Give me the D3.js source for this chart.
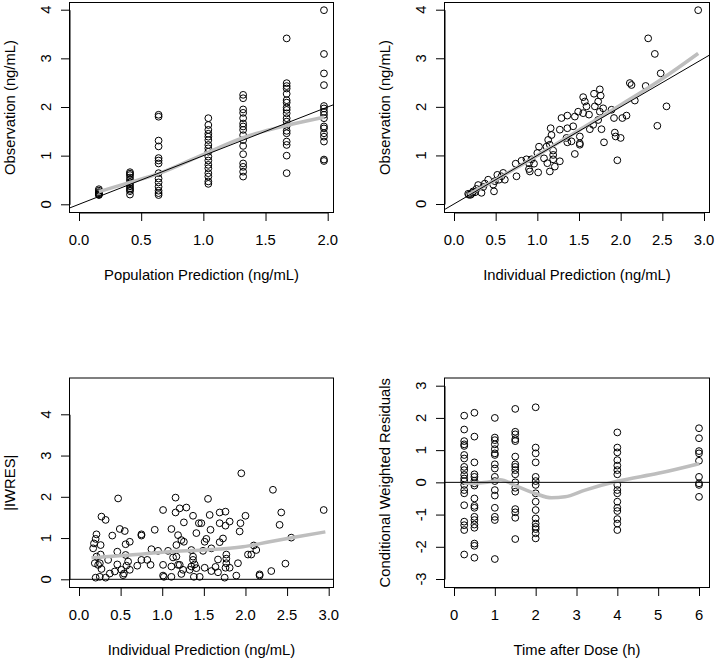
<!DOCTYPE html>
<html><head><meta charset="utf-8">
<script src="https://cdn.jsdelivr.net/npm/d3@7"></script>
<style>body{margin:0;background:#fff} text{font-family:"Liberation Sans",Arial,Helvetica,sans-serif;fill:#000}</style>
</head><body><svg id="c" width="716" height="661"></svg>
<script>
// ---------- DATA ----------
// Panel 1: Observation vs Population Prediction
const predLevels = [0.16, 0.41, 0.64, 1.04, 1.32, 1.67, 1.97];
const obsAtPred = [
  [0.31, 0.28, 0.25, 0.23, 0.21, 0.20, 0.19],
  [0.66, 0.63, 0.60, 0.55, 0.50, 0.45, 0.41, 0.37, 0.33, 0.30, 0.27, 0.20],
  [1.84, 1.80, 1.31, 1.19, 0.95, 0.90, 0.84, 0.64, 0.53, 0.45, 0.36, 0.28, 0.23, 0.19],
  [1.77, 1.63, 1.53, 1.45, 1.39, 1.32, 1.22, 1.15, 1.08, 0.98, 0.90, 0.81, 0.74, 0.64, 0.57, 0.47, 0.42],
  [2.25, 2.18, 1.95, 1.88, 1.77, 1.66, 1.60, 1.53, 1.42, 1.32, 1.20, 1.03, 0.84, 0.77, 0.67, 0.57],
  [3.41, 2.49, 2.43, 2.38, 2.27, 2.14, 2.09, 1.99, 1.94, 1.87, 1.77, 1.70, 1.61, 1.51, 1.46, 1.29, 1.22, 1.00, 0.64],
  [3.99, 3.09, 2.69, 2.45, 2.02, 1.97, 1.90, 1.84, 1.77, 1.60, 1.56, 1.46, 1.39, 1.29, 0.92, 0.89]
];
const smoothPredX = [0.16, 0.41, 0.64, 1.04, 1.32, 1.67, 1.97];
const smoothPredY = [0.26, 0.45, 0.63, 1.07, 1.37, 1.62, 1.79];

// Panel 2: Observation vs Individual Prediction
const ipredObs = [2.93,2.33,2.41,2.48,2.30,2.11,2.13,2.17,2.55,2.44,2.07,2.02,1.92,1.93,1.94,2.00,1.96,1.80,1.77,1.89,
  1.75,1.68,1.76,1.73,1.55,1.57,1.59,1.69,1.79,1.75,1.55,1.49,1.62,1.73,1.67,1.63,1.45,1.36,1.29,1.43,
  1.36,1.27,1.16,1.17,1.35,1.51,1.51,1.41,1.36,1.45,1.51,1.13,1.15,1.11,1.19,1.02,1.00,1.19,1.19,1.27,
  1.21,1.15,1.12,1.08,1.01,0.96,0.93,0.90,0.87,0.81,0.90,0.91,0.74,0.75,0.59,0.57,0.52,0.54,0.61,0.49,
  0.41,0.47,0.48,0.37,0.35,0.29,0.27,0.33,0.23,0.20,0.17,0.22,0.25,0.18];
const obsInd = [3.99,3.41,3.09,2.69,2.43,2.49,2.45,2.13,2.01,1.61,1.82,1.77,1.77,1.47,1.39,1.36,0.90,1.27,1.54,1.94,
  2.36,2.27,2.23,2.11,2.20,2.11,2.01,2.01,1.97,1.90,1.87,1.90,1.84,1.73,1.63,1.54,1.80,1.82,1.77,1.60,
  1.56,1.53,1.56,1.42,1.36,1.39,1.25,1.29,1.27,1.03,1.22,1.32,1.22,1.18,1.10,1.18,1.05,1.01,0.92,0.88,
  0.77,0.67,0.84,0.94,0.65,0.83,0.92,0.84,0.92,0.89,0.72,0.67,0.83,0.57,0.64,0.57,0.60,0.50,0.50,0.47,
  0.50,0.40,0.26,0.42,0.35,0.39,0.31,0.23,0.26,0.19,0.21,0.23,0.24,0.19];
const smoothIndX = [0.17, 0.5, 1.0, 1.5, 2.0, 2.5, 2.93];
const smoothIndY = [0.19, 0.50, 1.00, 1.52, 2.04, 2.58, 3.10];

// Panel 3: |IWRES| vs Individual Prediction
const ipredRes = [2.94,2.33,2.43,2.41,2.55,2.48,2.31,2.17,2.17,2.10,2.13,2.03,2.07,1.95,2.00,1.94,1.93,1.91,1.89,1.81,
  1.76,1.69,1.69,1.76,1.73,1.69,1.77,1.77,1.77,1.81,1.76,1.67,1.64,1.67,1.75,1.55,1.57,1.58,1.53,1.51,
  1.59,1.49,1.51,1.59,1.45,1.47,1.44,1.37,1.41,1.37,1.37,1.39,1.41,1.35,1.33,1.38,1.35,1.29,1.21,1.16,
  1.16,1.26,1.23,1.26,1.19,1.17,1.13,1.17,1.19,1.21,1.25,1.23,1.11,1.11,1.11,1.01,1.01,1.01,1.02,1.07,
  0.95,0.91,0.87,0.86,0.82,0.75,0.75,0.75,0.70,0.61,0.61,0.59,0.56,0.56,0.55,0.57,0.54,0.51,0.53,0.49,
  0.47,0.46,0.46,0.43,0.40,0.37,0.35,0.32,0.27,0.32,0.26,0.26,0.25,0.27,0.23,0.21,0.20,0.18,0.17,0.21,
  0.19,0.20,0.25];
const absIwres = [1.68,2.17,1.62,1.32,1.01,0.38,0.20,0.12,0.09,0.82,0.71,0.60,0.60,2.57,1.54,1.36,1.16,0.39,0.09,1.40,
  1.64,1.62,1.36,1.30,0.99,0.90,0.60,0.50,0.39,0.28,0.28,0.48,0.30,0.17,0.04,1.95,1.56,1.20,0.98,0.91,
  0.75,0.69,0.28,0.20,0.06,1.36,1.36,1.54,1.12,0.55,0.47,0.36,0.27,0.31,0.23,0.06,0.71,1.74,1.72,1.98,
  1.62,1.38,0.95,0.91,1.07,0.83,0.53,0.55,0.35,0.35,0.23,0.13,1.22,0.31,0.06,1.68,0.35,0.09,0.06,0.69,
  0.69,1.20,0.73,0.35,0.47,1.09,1.06,0.47,0.33,0.91,0.23,0.43,0.85,0.59,1.17,0.33,0.14,0.23,0.10,1.22,
  1.96,0.67,0.36,0.19,1.06,0.14,0.47,1.44,1.52,0.04,0.60,0.83,0.39,0.25,0.35,1.09,0.98,0.87,0.75,0.55,
  0.39,0.04,0.06];
const smoothResX = [0.15, 0.61, 1.09, 1.49, 1.97, 2.29, 2.62, 2.96];
const smoothResY = [0.52, 0.59, 0.67, 0.71, 0.79, 0.91, 1.03, 1.15];

// Panel 4: CWRES vs Time after Dose
const times = [0.25, 0.5, 1, 1.5, 2, 4, 6];
const cwresAtTime = [
  [2.07,1.64,1.28,1.18,1.13,0.85,0.74,0.48,0.38,0.23,0.12,0.04,-0.08,-0.24,-0.34,-0.71,-1.22,-1.33,-1.48,-2.24],
  [2.16,1.42,0.62,0.25,0.17,0.05,-0.03,-0.10,-0.50,-0.73,-0.79,-1.07,-1.17,-1.31,-1.41,-1.90,-1.97,-2.34],
  [2.00,1.39,1.31,1.18,1.03,0.90,0.85,0.56,0.43,0.17,0.04,-0.24,-0.41,-0.79,-1.07,-1.17,-2.38],
  [2.28,1.57,1.49,1.34,1.28,0.80,0.56,0.48,0.38,0.25,0.00,-0.17,-0.29,-0.83,-0.93,-1.10,-1.76],
  [2.33,1.08,0.90,0.62,0.17,0.04,-0.08,-0.34,-0.60,-0.86,-1.12,-1.28,-1.38,-1.45,-1.58,-1.74],
  [1.55,1.08,0.93,0.69,0.52,0.38,0.25,-0.08,-0.24,-0.34,-0.60,-0.79,-0.89,-1.14,-1.28,-1.48],
  [1.68,1.37,0.97,0.90,0.67,0.17,-0.03,-0.08,-0.45]
];
const smoothTimeX = [0.25, 0.6, 1.0, 1.13, 1.57, 1.98, 2.39, 2.72, 3.21, 4.02, 5.0, 6.0];
const smoothTimeY = [-0.03, -0.02, 0.04, 0.08, -0.14, -0.34, -0.48, -0.45, -0.24, 0.04, 0.28, 0.58];

const ticksPred = [0, 0.5, 1, 1.5, 2];
const ticksInd = [0, 0.5, 1, 1.5, 2, 2.5, 3];
const ticksTime = [0, 1, 2, 3, 4, 5, 6];
const ticksObs = [0, 1, 2, 3, 4];
const ticksCwres = [-3, -2, -1, 0, 1, 2, 3];

// ---------- DRAW ----------
const svg = d3.select("#c");
svg.append("rect").attr("width", 716).attr("height", 661).attr("fill", "#fff");
const FS = 14.8;

function panel(cfg, idx) {
  const b = cfg.box;
  const g = svg.append("g");
  const x = d3.scaleLinear().domain(cfg.xAnchor).range(cfg.xRange);
  const y = d3.scaleLinear().domain(cfg.yAnchor).range(cfg.yRange);
  const cid = "clip" + idx;
  svg.append("clipPath").attr("id", cid).append("rect")
    .attr("x", b.l).attr("y", b.t).attr("width", b.r - b.l).attr("height", b.b - b.t);

  g.append("g").selectAll("circle").data(cfg.points).join("circle")
    .attr("cx", d => x(d[0])).attr("cy", d => y(d[1])).attr("r", 3.4)
    .attr("fill", "none").attr("stroke", "#000").attr("stroke-width", 1);

  const sm = cfg.smoothX.map((v, i) => [v, cfg.smoothY[i]]);
  g.append("path").attr("clip-path", `url(#${cid})`)
    .attr("d", d3.line().x(d => x(d[0])).y(d => y(d[1])).curve(d3.curveMonotoneX)(sm))
    .attr("fill", "none").attr("stroke", "#bebebe").attr("stroke-width", 3.5);

  const x0 = x.invert(b.l), x1 = x.invert(b.r);
  const ref = cfg.ref === "identity" ? [[x0, x0], [x1, x1]] : [[x0, 0], [x1, 0]];
  g.append("path").attr("clip-path", `url(#${cid})`)
    .attr("d", d3.line().x(d => x(d[0])).y(d => y(d[1]))(ref))
    .attr("fill", "none").attr("stroke", "#000").attr("stroke-width", 1);

  g.append("rect").attr("x", b.l).attr("y", b.t).attr("width", b.r - b.l).attr("height", b.b - b.t)
    .attr("fill", "none").attr("stroke", "#000").attr("stroke-width", 1);

  const ax = g.append("g").attr("transform", `translate(0,${b.b})`)
    .call(d3.axisBottom(x).tickValues(cfg.xTicks).tickSize(8.5).tickSizeOuter(0).tickFormat(""));
  const ay = g.append("g").attr("transform", `translate(${b.l},0)`)
    .call(d3.axisLeft(y).tickValues(cfg.yTicks).tickSize(8.5).tickSizeOuter(0).tickFormat(""));
  [ax, ay].forEach(a => { a.selectAll("path,line").attr("stroke", "#000").attr("stroke-width", 1); });

  g.append("g").selectAll("text").data(cfg.xTicks).join("text")
    .attr("x", d => x(d)).attr("y", b.b + 32.5).attr("text-anchor", "middle")
    .style("font-size", FS + "px").text(cfg.xFmt);
  g.append("g").selectAll("text").data(cfg.yTicks).join("text")
    .attr("transform", d => `translate(${b.l - 18.5},${y(d)}) rotate(-90)`)
    .attr("text-anchor", "middle").style("font-size", FS + "px").text(d => String(d));

  g.append("text").attr("x", (b.l + b.r) / 2).attr("y", b.b + 67)
    .attr("text-anchor", "middle").style("font-size", FS + "px").text(cfg.xTitle);
  g.append("text").attr("transform", `translate(${b.l - 55},${(b.t + b.b) / 2}) rotate(-90)`)
    .attr("text-anchor", "middle").style("font-size", FS + "px").text(cfg.yTitle);
}

const f1 = d3.format(".1f");
const p1 = [];
predLevels.forEach((p, i) => obsAtPred[i].forEach(o => p1.push([p, o])));
const p4 = [];
times.forEach((t, i) => cwresAtTime[i].forEach(c => p4.push([t, c])));

panel({
  box: {l: 69.5, r: 333.5, t: 2.5, b: 212.5},
  xAnchor: [0, 2], xRange: [79, 327.7], yAnchor: [0, 4], yRange: [204.3, 9.7],
  points: p1, smoothX: smoothPredX, smoothY: smoothPredY, ref: "identity",
  xTicks: ticksPred, yTicks: ticksObs, xFmt: f1,
  xTitle: "Population Prediction (ng/mL)", yTitle: "Observation (ng/mL)"
}, 1);
panel({
  box: {l: 444.5, r: 709.5, t: 2.5, b: 212.5},
  xAnchor: [0, 3], xRange: [454, 704], yAnchor: [0, 4], yRange: [204, 9.7],
  points: ipredObs.map((v, i) => [v, obsInd[i]]), smoothX: smoothIndX, smoothY: smoothIndY, ref: "identity",
  xTicks: ticksInd, yTicks: ticksObs, xFmt: f1,
  xTitle: "Individual Prediction (ng/mL)", yTitle: "Observation (ng/mL)"
}, 2);
panel({
  box: {l: 69.5, r: 333.5, t: 378, b: 587.5},
  xAnchor: [0, 3], xRange: [79, 328.7], yAnchor: [0, 4], yRange: [579.3, 414.3],
  points: ipredRes.map((v, i) => [v, absIwres[i]]), smoothX: smoothResX, smoothY: smoothResY, ref: "zero",
  xTicks: ticksInd, yTicks: ticksObs, xFmt: f1,
  xTitle: "Individual Prediction (ng/mL)", yTitle: "|IWRES|"
}, 3);
panel({
  box: {l: 444.5, r: 709.5, t: 378, b: 587.5},
  xAnchor: [0, 6], xRange: [454, 699], yAnchor: [-3, 3], yRange: [579, 385.7],
  points: p4, smoothX: smoothTimeX, smoothY: smoothTimeY, ref: "zero",
  xTicks: ticksTime, yTicks: ticksCwres, xFmt: d => String(d),
  xTitle: "Time after Dose (h)", yTitle: "Conditional Weighted Residuals"
}, 4);
</script></body></html>
